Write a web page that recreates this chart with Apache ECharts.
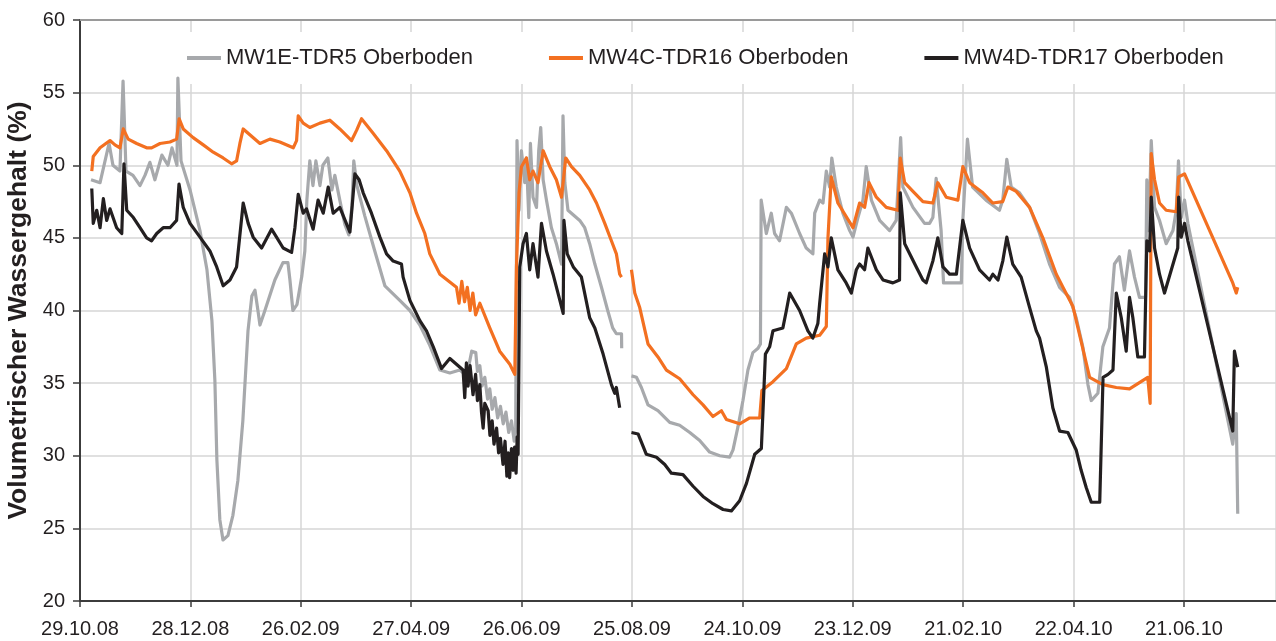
<!DOCTYPE html>
<html>
<head>
<meta charset="utf-8">
<title>Volumetrischer Wassergehalt Oberboden</title>
<script src="https://cdn.jsdelivr.net/npm/echarts/dist/echarts.min.js"></script>
<style>
    html, body { margin: 0; padding: 0; background: #fff; }
    #chart { width: 1276px; height: 641px; }
</style>
</head>
<body>
<div id="chart"></div>
<script>
// x = Tage seit 29.10.2008, y = Wassergehalt in %
const xTickLabels = ['29.10.08', '28.12.08', '26.02.09', '27.04.09', '26.06.09', '25.08.09',
    '24.10.09', '23.12.09', '21.02.10', '22.04.10', '21.06.10'];
const yTicks = [20, 25, 30, 35, 40, 45, 50, 55, 60];
const seriesNames = ['MW1E-TDR5 Oberboden', 'MW4C-TDR16 Oberboden', 'MW4D-TDR17 Oberboden'];

const mw1eTdr5 = [
    [6, 49.0], [10.9, 48.8], [15.8, 51.5], [17.9, 50.0], [21.7, 49.6], [23.4, 55.8], [25, 49.6],
    [28.8, 49.3], [32.6, 48.6], [35.3, 49.3], [38, 50.2], [40.7, 49.0], [44.5, 50.7], [47.8, 50.0],
    [50, 51.2], [52.7, 50.0], [53.2, 56.0], [54.9, 50.3], [59.8, 48.3], [65.2, 45.5], [69, 42.8],
    [71.7, 39.3], [73.3, 35.2], [74.4, 29.7], [76, 25.6], [77.7, 24.2], [80.4, 24.5], [83.1, 25.9],
    [85.8, 28.3], [88.5, 32.4], [91.3, 38.6], [93.4, 41.0], [95.1, 41.4], [96.7, 40.0], [97.8, 39.0],
    [100.5, 40.0], [105.9, 42.1], [110.3, 43.3], [113, 43.3], [114.1, 42.1], [115.7, 40.0],
    [117.9, 40.4], [120.6, 42.4], [122.2, 44.1], [123.3, 47.6], [124.9, 50.3], [126.6, 48.6],
    [128.2, 50.3], [130.4, 48.6], [132, 50.0], [134.7, 50.5], [136.9, 48.3], [138.5, 49.3],
    [141.2, 47.6], [144, 45.9], [146.1, 45.2], [147.8, 47.2], [148.8, 50.3], [150.5, 48.6],
    [154.8, 46.5], [160.2, 44.1], [165.7, 41.7], [173.8, 40.7], [179.3, 40.0], [184.7, 39.0],
    [190.1, 37.6], [195.6, 35.9], [201, 35.7], [206.4, 35.9], [210.2, 35.5], [212.9, 37.2],
    [215.1, 37.1], [216, 35.8], [217.3, 36.2], [218.5, 34.8], [220, 35.4], [221.5, 33.9],
    [222.7, 34.6], [224, 33.2], [225.5, 34.0], [227, 32.6], [228.5, 33.4], [230, 32.2],
    [231.5, 33.0], [233, 31.6], [234.5, 32.4], [236, 31.0], [236.8, 31.8], [237.5, 51.7],
    [238.6, 46.9], [239.9, 51.0], [241.7, 48.8], [242.6, 50.5], [243.9, 46.4], [244.8, 51.5],
    [246.2, 47.8], [248.1, 47.1], [249.3, 51.0], [250.4, 52.6], [251.7, 49.0], [253.5, 47.6],
    [256.2, 45.7], [258.9, 44.6], [261.7, 43.2], [262.5, 53.4], [263.5, 48.8], [265.2, 46.9],
    [271.6, 46.2], [274.3, 45.7], [277, 44.6], [279.8, 43.2], [283.4, 41.6], [286.8, 40.0],
    [289.5, 38.8], [291.5, 38.4], [294.3, 38.4], [294.4, 37.4], [297, null],
    [299.7, 35.5], [302.4, 35.4], [305.1, 34.7], [308.7, 33.5], [314.1, 33.1], [320.5, 32.3],
    [325.9, 32.1], [331.4, 31.6], [336.8, 31.05], [342.2, 30.25], [347.7, 30.0], [353.1, 29.9],
    [354.9, 30.4], [357.6, 32.0], [360.3, 33.8], [363, 35.9], [365.7, 37.1], [368.5, 37.4],
    [369.8, 37.7], [370.2, 47.6], [371.2, 47.6], [373, 45.3], [375.7, 46.7], [377.5, 45.3],
    [380.2, 44.8], [383.9, 47.1], [386.6, 46.7], [391.1, 45.3], [394.7, 44.3], [398.3, 43.9],
    [399.3, 46.7], [402, 47.6], [403.8, 47.4], [405.6, 49.6], [407.4, 48.5], [408.6, 50.5],
    [411, 48.5], [414.6, 46.7], [418.3, 45.5], [420.1, 45.05], [422.8, 46.4], [425.5, 47.6],
    [427.3, 49.9], [430.1, 47.6], [434.6, 46.2], [440, 45.5], [443.6, 46.2], [446, 51.9],
    [447.2, 48.5], [452.7, 47.1], [459, 46.0], [461.7, 46.0], [463.5, 46.4], [465.3, 49.1],
    [468, 45.5], [469.3, 41.9], [479, 41.9], [479.8, 46.2], [482.3, 51.8], [485.1, 48.5],
    [492.4, 47.6], [499.7, 46.9], [501.5, 47.6], [503.7, 50.4], [506.1, 48.5], [510.6, 48.1],
    [516.1, 47.1], [521.5, 45.3], [526.9, 43.2], [532.4, 41.6], [537.8, 40.9], [541.4, 39.5],
    [545, 37.5], [547.8, 34.9], [549.6, 33.8], [553.2, 34.3], [555.9, 37.5], [559.5, 38.8],
    [562.2, 43.2], [564.9, 43.7], [567.6, 41.4], [570.4, 44.1], [573.1, 42.3], [575.8, 40.9],
    [579.1, 40.9], [579.8, 49.0], [580.9, 45.5], [582.2, 51.7], [584, 47.1], [586.7, 46.2],
    [590.3, 44.6], [594, 45.5], [595.8, 46.9], [597, 50.3], [598.5, 46.4], [600.3, 47.6],
    [602.1, 46.0], [626.5, 30.8], [628.4, 32.9], [629.2, 26.0]
];

const mw4cTdr16 = [
    [6.4, 49.6], [7.2, 50.6], [10.9, 51.2], [16.3, 51.7], [19, 51.4], [21.7, 51.2], [23.5, 52.5],
    [26.2, 51.8], [30.8, 51.5], [36.2, 51.2], [38.9, 51.2], [43.5, 51.5], [48.9, 51.6], [52.5, 51.8],
    [53.9, 53.2], [56.1, 52.5], [61.5, 51.9], [67, 51.4], [72.4, 50.9], [77.8, 50.5], [82.4, 50.1],
    [85.1, 50.3], [86.9, 51.5], [88.7, 52.5], [92.3, 52.1], [97.8, 51.5], [103.2, 51.8],
    [108.6, 51.6], [115.9, 51.2], [117.7, 51.7], [118.6, 53.4], [121.3, 52.9], [124.9, 52.6],
    [130.4, 52.9], [135.8, 53.1], [141.2, 52.5], [147.6, 51.7], [150.3, 52.4], [153, 53.2],
    [159.3, 52.2], [166.6, 51.0], [173.8, 49.6], [179.3, 48.1], [182.9, 46.7], [187.4, 45.3],
    [190.1, 43.9], [195.6, 42.5], [204.6, 41.6], [206, 40.5], [207.5, 42.0], [209, 40.6],
    [210.5, 41.6], [212, 40.0], [213.5, 41.2], [215, 39.7], [217.3, 40.5], [222.7, 38.8],
    [228.1, 37.2], [233.6, 36.3], [236.3, 35.6], [237.2, 43.0], [238.6, 48.1], [239.9, 49.9],
    [242.6, 50.5], [244.4, 49.0], [246.2, 49.6], [248.9, 48.8], [251.7, 51.0], [255.3, 49.9],
    [258.9, 49.0], [261.7, 47.8], [264, 50.5], [267.1, 49.9], [271.6, 49.3], [277, 48.3],
    [280.7, 47.4], [285.2, 46.0], [288.8, 44.8], [291.5, 43.9], [293.3, 42.5], [294.3, 42.3],
    [297, null],
    [299.7, 42.8], [301.5, 41.2], [304.2, 40.2], [308.7, 37.7], [314.1, 36.8], [318.7, 35.9],
    [325.9, 35.3], [333.2, 34.2], [338.6, 33.5], [344, 32.7], [348.6, 33.1], [351.3, 32.5],
    [358.5, 32.2], [364, 32.6], [369.4, 32.6], [370.6, 34.5], [376.6, 35.1], [383.9, 36.0],
    [389.3, 37.7], [394.7, 38.1], [402, 38.3], [405.6, 38.9], [406.5, 45.0], [408.3, 49.2],
    [411.9, 47.4], [420.1, 45.7], [423.7, 47.4], [426.4, 47.1], [428.8, 48.8], [432.8, 47.8],
    [438.2, 47.1], [444.5, 46.9], [445.8, 50.5], [448.2, 48.8], [452.7, 48.2], [458.1, 47.5],
    [463.5, 47.4], [466.2, 48.8], [470.8, 47.8], [477.1, 47.6], [479.8, 49.9], [483.5, 48.8],
    [490.7, 48.1], [496.1, 47.4], [501.5, 47.5], [504.3, 48.5], [508.8, 48.2], [516.1, 47.1],
    [523.3, 45.0], [530.6, 42.5], [534.2, 41.6], [539.6, 40.3], [543.3, 38.3], [548.7, 35.4],
    [555.9, 34.9], [563.2, 34.7], [570.4, 34.6], [580.3, 35.4], [581.6, 33.6], [582.2, 50.8],
    [584, 49.0], [586.7, 47.4], [590.3, 46.9], [595.8, 46.8], [597.1, 49.2], [600.3, 49.4],
    [626.5, 41.9], [628.4, 41.2], [629.2, 41.6]
];

const mw4dTdr17 = [
    [6.4, 48.4], [7.2, 46.0], [9.1, 46.9], [10.9, 45.7], [12.7, 47.7], [14.5, 46.2], [16.3, 47.0],
    [19.9, 45.7], [22.7, 45.3], [23.9, 50.1], [25.4, 46.9], [29, 46.4], [32.6, 45.7], [36.2, 45.0],
    [38.9, 44.8], [41.7, 45.3], [45.2, 45.7], [48.9, 45.7], [52.5, 46.2], [53.8, 48.7], [56.1, 47.1],
    [59.8, 46.0], [65.2, 45.05], [70.6, 44.1], [74.3, 43.0], [77.8, 41.7], [81.5, 42.1], [85.1, 43.0],
    [88.7, 47.4], [91.4, 46.0], [94.1, 45.05], [98.7, 44.3], [104.1, 45.6], [106.8, 45.05],
    [110.4, 44.3], [115, 44.0], [116.8, 45.7], [118.6, 48.0], [121.3, 46.7], [123.1, 47.0],
    [126.7, 45.6], [129.4, 47.6], [132.2, 46.7], [134.9, 48.5], [137.6, 46.7], [141.2, 47.1],
    [146.7, 45.4], [149.4, 49.4], [151.7, 49.0], [153.9, 48.1], [158.4, 46.7], [163, 45.05],
    [166.6, 43.9], [170.2, 43.4], [174.7, 43.2], [175.6, 42.3], [179.3, 40.7], [184.7, 39.3],
    [188.3, 38.6], [192, 37.5], [196.5, 36.0], [201, 36.7], [204.6, 36.3], [208.2, 35.9],
    [209.1, 34.0], [210, 36.4], [210.9, 34.8], [212, 36.2], [213.6, 34.2], [215, 35.6],
    [216, 33.8], [217.3, 34.9], [218.2, 33.0], [219.1, 31.9], [220, 33.6], [221.8, 33.1],
    [222.8, 31.4], [224, 32.4], [225, 30.8], [226.4, 31.9], [227.5, 30.2], [228.5, 31.2],
    [229.9, 29.4], [231, 31.0], [232, 28.6], [232.7, 30.2], [233.5, 28.5], [234.5, 30.5],
    [235.4, 29.0], [236.2, 30.6], [237, 28.8], [237.6, 31.3], [238.1, 30.1], [239, 43.0],
    [240.8, 44.6], [242.6, 45.3], [244.4, 42.8], [246.2, 44.6], [248.9, 42.3], [250.8, 46.0],
    [253.5, 44.1], [257.1, 42.5], [260.8, 40.7], [262.6, 39.8], [263, 46.2], [264.8, 43.9],
    [268.1, 43.0], [272.5, 42.3], [277, 39.5], [279.8, 38.8], [284.3, 37.0], [288.8, 34.9],
    [290.6, 34.3], [291.5, 34.7], [293.3, 33.3], [297, null],
    [299.7, 31.6], [303.3, 31.5], [307.8, 30.1], [313.3, 29.9], [317.8, 29.4], [321.4, 28.8],
    [327.7, 28.7], [333.2, 27.9], [338.6, 27.2], [344, 26.7], [349.5, 26.3], [354, 26.2],
    [358.5, 26.9], [362.2, 28.1], [366.7, 30.1], [370.3, 30.5], [371.2, 33.1], [372.5, 37.0],
    [374.8, 37.5], [376.6, 38.6], [382, 38.8], [383.9, 40.0], [385.7, 41.2], [391.1, 40.0],
    [395.6, 38.6], [398.3, 38.1], [401, 39.1], [402, 40.5], [404.7, 43.9], [406.5, 43.0],
    [408.3, 45.0], [411.9, 42.8], [416.4, 41.9], [419.2, 41.2], [421.9, 42.8], [423.7, 43.2],
    [426.4, 42.8], [428.2, 44.3], [432.8, 42.8], [436.4, 42.1], [441.8, 41.9], [445.4, 42.1],
    [445.8, 48.1], [448.2, 44.6], [454.5, 43.0], [458.1, 42.1], [459.9, 41.9], [463.5, 43.4],
    [466.2, 45.0], [469, 43.0], [472.6, 42.5], [476.3, 42.5], [479.8, 46.2], [483.5, 44.3],
    [488.9, 42.8], [494.3, 42.1], [496.1, 42.5], [498.9, 42.1], [501.5, 43.4], [503.7, 45.05],
    [506.9, 43.2], [511.5, 42.3], [516.1, 40.2], [519.7, 38.6], [521.5, 38.1], [525.2, 36.1],
    [528.7, 33.3], [532.4, 31.7], [536.9, 31.6], [541.4, 30.4], [544.1, 29.0], [546.9, 27.8],
    [549.6, 26.8], [554.2, 26.8], [556, 35.4], [558.7, 35.6], [561.4, 35.9], [563.2, 41.2],
    [565.9, 39.5], [568.6, 37.2], [570.4, 40.9], [572.2, 39.5], [574.9, 36.8], [578.5, 36.8],
    [579.8, 44.8], [581.3, 44.1], [582.2, 47.8], [584, 44.3], [586.7, 42.5], [589.4, 41.2],
    [596.6, 44.3], [597.1, 47.8], [598.5, 45.05], [600.3, 46.0], [602.1, 44.8], [626.5, 31.7],
    [627.4, 37.2], [629.2, 36.1]
];

const seriesColors = ['#a7a9ac', '#f37021', '#231f20'];
const seriesData = [mw1eTdr5, mw4cTdr16, mw4dTdr17];

const fontFamily = '"Liberation Sans", Arial, sans-serif';
const chart = echarts.init(document.getElementById('chart'));

chart.setOption({
    animation: false,
    backgroundColor: '#fff',
    color: seriesColors,
    grid: { left: 80, right: 0, top: 20, bottom: 40, containLabel: false, outerBoundsMode: 'none' },
    legend: {
        data: seriesNames,
        top: 32,
        left: 182,
        padding: [15, 5, 15, 5],
        itemGap: 76,
        itemWidth: 34,
        itemHeight: 4,
        icon: 'rect',
        backgroundColor: '#fff',
        textStyle: { fontSize: 22, color: '#231f20', fontFamily: fontFamily }
    },
    xAxis: [{
        type: 'value',
        min: 0,
        max: 650,
        interval: 60,
        axisLine: { lineStyle: { color: '#3c3c3c', width: 2 } },
        axisTick: { show: true, length: 6, lineStyle: { color: '#3c3c3c', width: 1.5 } },
        axisLabel: {
            margin: 18,
            fontSize: 20,
            color: '#231f20',
            fontFamily: fontFamily,
            showMaxLabel: false,
            formatter: function (v) {
                return v % 60 === 0 ? (xTickLabels[v / 60] || '') : '';
            }
        },
        splitLine: { show: true, lineStyle: { color: '#d6d6d6', width: 1.5 } }
    }, {
        // obere Begrenzung
        type: 'value',
        position: 'top',
        min: 0,
        max: 650,
        axisLine: { show: true, lineStyle: { color: '#9a9a9a', width: 2 } },
        axisTick: { show: false },
        axisLabel: { show: false },
        splitLine: { show: false }
    }],
    yAxis: {
        type: 'value',
        min: yTicks[0],
        max: yTicks[yTicks.length - 1],
        interval: 5,
        name: 'Volumetrischer Wassergehalt (%)',
        nameLocation: 'middle',
        nameGap: 44,
        nameTextStyle: { fontSize: 26.5, fontWeight: 'bold', color: '#231f20', fontFamily: fontFamily },
        axisLine: { show: true, lineStyle: { color: '#3c3c3c', width: 2 } },
        axisTick: { show: true, length: 7, lineStyle: { color: '#3c3c3c', width: 1.5 } },
        axisLabel: { margin: 15, fontSize: 20, color: '#231f20', fontFamily: fontFamily },
        splitLine: { show: true, lineStyle: { color: '#d6d6d6', width: 1.5 } }
    },
    series: seriesNames.map(function (name, i) {
        return {
            name: name,
            type: 'line',
            xAxisIndex: 0,
            showSymbol: false,
            symbol: 'none',
            connectNulls: false,
            lineStyle: { color: seriesColors[i], width: 3.2, join: 'round' },
            itemStyle: { color: seriesColors[i] },
            data: seriesData[i].map(function (p) { return [p[0], p[1] === null ? '-' : p[1]]; })
        };
    })
});
</script>
</body>
</html>
